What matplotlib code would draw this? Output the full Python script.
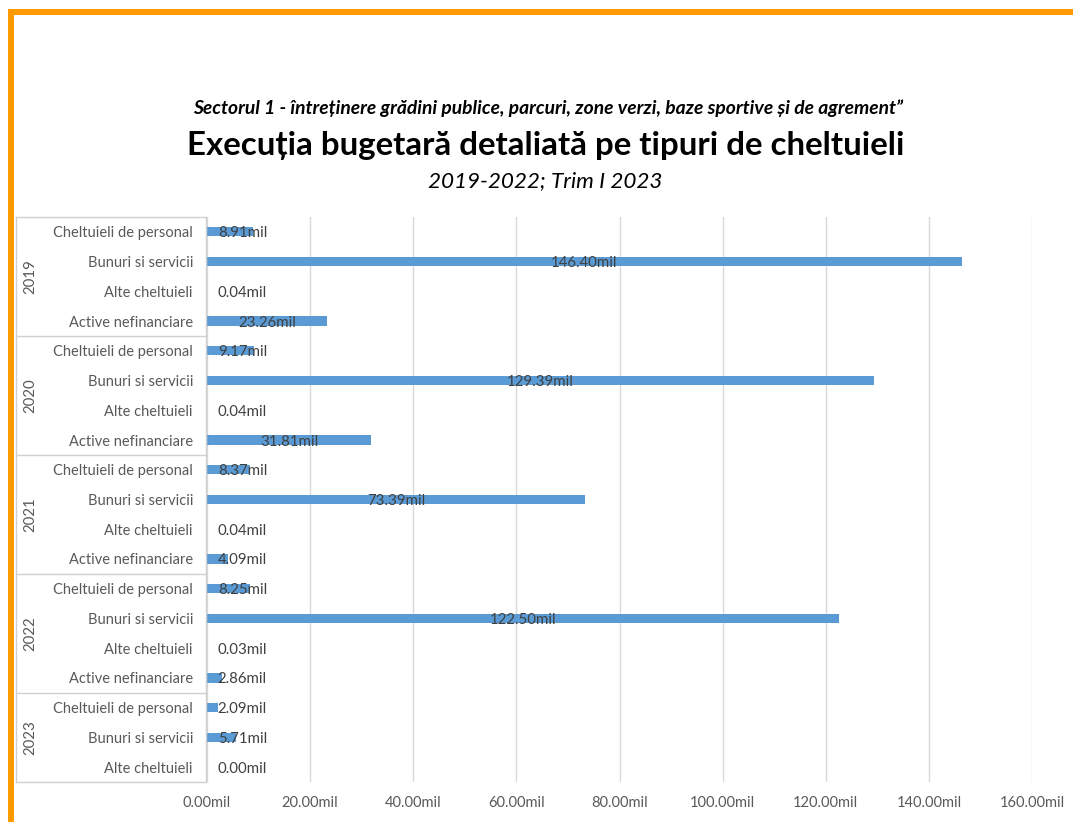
import matplotlib
matplotlib.use("Agg")
import matplotlib.pyplot as plt
from matplotlib.patches import Rectangle
from matplotlib.lines import Line2D

# date
years = ["2019", "2020", "2021", "2022", "2023"]
cats_full = ["Cheltuieli de personal", "Bunuri si servicii", "Alte cheltuieli", "Active nefinanciare"]
cats_2023 = ["Cheltuieli de personal", "Bunuri si servicii", "Alte cheltuieli"]
values_2019 = [8.91, 146.40, 0.04, 23.26]
values_2020 = [9.17, 129.39, 0.04, 31.81]
values_2021 = [8.37, 73.39, 0.04, 4.09]
values_2022 = [8.25, 122.50, 0.03, 2.86]
values_2023 = [2.09, 5.71, 0.00]
xticks = [0, 20, 40, 60, 80, 100, 120, 140, 160]

groups = [
    ("2019", cats_full, values_2019),
    ("2020", cats_full, values_2020),
    ("2021", cats_full, values_2021),
    ("2022", cats_full, values_2022),
    ("2023", cats_2023, values_2023),
]

plt.rcParams['font.family'] = ['Lato', 'DejaVu Sans']

W, H = 1073, 822
fig = plt.figure(figsize=(W / 100, H / 100), dpi=100)

def fx(px):
    return px / W

def fy(py):
    return 1 - py / H

# rama portocalie
orange = "#FF9900"
fig.add_artist(Rectangle((fx(8), fy(15)), fx(W - 8), fy(9) - fy(15), color=orange, transform=fig.transFigure, lw=0))
fig.add_artist(Rectangle((fx(8), 0), fx(6), fy(9), color=orange, transform=fig.transFigure, lw=0))

# titluri
fig.text(fx(548), fy(108), "Sectorul 1 - întreținere grădini publice, parcuri, zone verzi, baze sportive și de agrement\u201d",
         ha="center", va="center", fontsize=13.9, style="italic", fontweight="bold", color="#000000")
fig.text(fx(546), fy(145), "Execuția bugetară detaliată pe tipuri de cheltuieli",
         ha="center", va="center", fontsize=23.8, fontweight="bold", color="#000000")
fig.text(fx(545), fy(181), "2019-2022; Trim I 2023",
         ha="center", va="center", fontsize=16.2, style="italic", color="#000000")

# axa principala
top, bottom, left, right = 217, 782, 207, 1032
ax = fig.add_axes([fx(left), fy(bottom), fx(right) - fx(left), fy(top) - fy(bottom)])

labels, vals, group_bounds = [], [], []
for year, cats, v in groups:
    group_bounds.append((year, len(labels), len(labels) + len(cats)))
    labels += cats
    vals += v

n = len(labels)
pos = list(range(n))
bar_color = "#5B9BD5"
ax.barh(pos, vals, height=0.31, color=bar_color, zorder=3)
ax.set_xlim(0, 160)
ax.set_ylim(n - 0.5, -0.5)
ax.set_xticks(xticks)
ax.set_xticklabels([f"{t:.2f}mil" for t in xticks], fontsize=10.5, color="#595959")
ax.tick_params(axis="x", length=0, pad=10)
ax.set_yticks([])
for s in ax.spines.values():
    s.set_visible(False)
ax.grid(axis="x", color="#D9D9D9", lw=1, zorder=0)

# etichete valori
for p, v in zip(pos, vals):
    txt = f"{v:.2f}mil"
    if v < 13.6:
        ax.text(2.1, p + 0.05, txt, ha="left", va="center", fontsize=10.8, color="#404040", zorder=4)
    else:
        ax.text(v / 2, p + 0.05, txt, ha="center", va="center", fontsize=10.8, color="#404040", zorder=4)

# tabel categorii
row_h = (bottom - top) / n
line_c = "#D0D0D0"
tl, tr = 16, 206
fig.add_artist(Line2D([fx(tl), fx(tl)], [fy(top), fy(bottom)], color=line_c, lw=1, transform=fig.transFigure))
fig.add_artist(Line2D([fx(tr), fx(tr)], [fy(top), fy(bottom)], color=line_c, lw=1, transform=fig.transFigure))
for year, i0, i1 in group_bounds:
    y0 = top + i0 * row_h
    y1 = top + i1 * row_h
    fig.add_artist(Line2D([fx(tl), fx(tr)], [fy(y0), fy(y0)], color=line_c, lw=1, transform=fig.transFigure))
    fig.text(fx(30), fy((y0 + y1) / 2), year, rotation=90, ha="center", va="center",
             fontsize=10.8, color="#595959")
fig.add_artist(Line2D([fx(tl), fx(tr)], [fy(bottom), fy(bottom)], color=line_c, lw=1, transform=fig.transFigure))

for i, lab in enumerate(labels):
    yc = top + (i + 0.5) * row_h + 1.5
    fig.text(fx(193), fy(yc), lab, ha="right", va="center", fontsize=10.5, color="#595959")

fig.savefig("out.png", dpi=100)
